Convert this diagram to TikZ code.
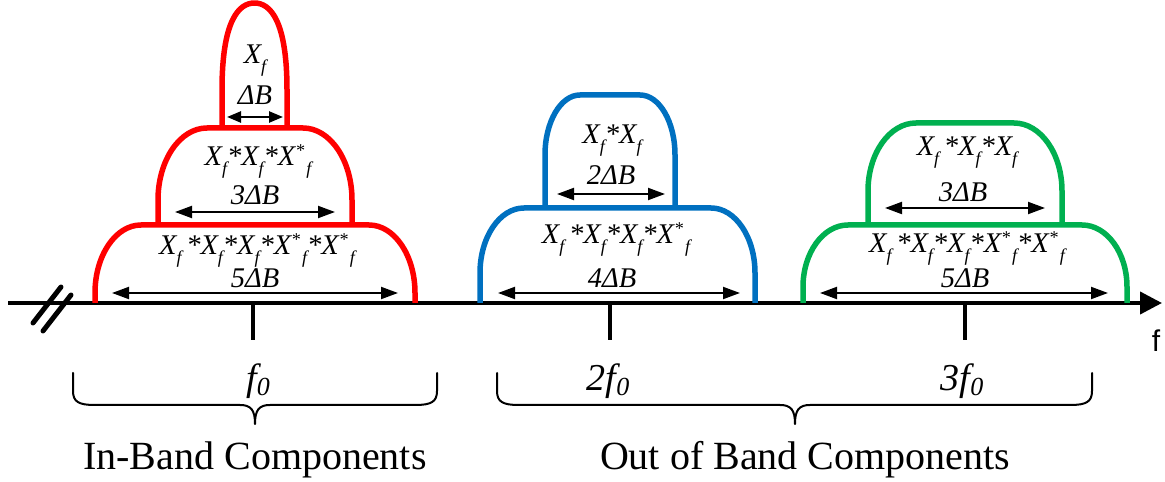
\documentclass[tikz,border=0pt]{standalone}
\usepackage{fontspec}
\setmainfont{Liberation Serif}
\newfontfamily\axisfont{Liberation Sans}
\usetikzlibrary{arrows.meta}

\definecolor{bandred}{RGB}{255,0,0}
\definecolor{bandblue}{RGB}{0,112,192}
\definecolor{bandgreen}{RGB}{0,176,80}

% sub- and superscripts set by hand in the text font
\newcommand\dn[1]{\raisebox{-0.3em}{\fontsize{18}{18}\selectfont #1}}
\newcommand\upstar{\raisebox{0.33em}{\fontsize{18}{18}\selectfont *}}
\newcommand\Xf{X\dn{f}}
\newcommand\Xc{X\upstar\kern2pt\dn{f}}
\newcommand\fz{f\raisebox{-0.12em}{\fontsize{26}{26}\selectfont 0}}
\newcommand\labfont{\fontsize{28.5}{31}\selectfont\itshape}
\newcommand\freqfont{\fontsize{38}{40}\selectfont\itshape}
\newcommand\capfont{\fontsize{40}{44}\selectfont}

% spectral lobe: style, left x, right x, base y, top y, corner x radius, corner y radius
\newcommand\drawlobe[7]{%
  \draw[#1] (#2,#4) -- (#2,{#5-#7})
    arc[start angle=180,end angle=90,x radius=#6,y radius=#7]
    -- ({#3-#6},#5)
    arc[start angle=90,end angle=0,x radius=#6,y radius=#7]
    -- (#3,#4);}

% horizontal brace: left x, right x, tip x
\newcommand\drawbrace[3]{%
  \draw[brace] (#1,109) -- (#1,91) .. controls (#1,80) and ({#1+6},77) .. ({#1+22},77)
    -- ({#3-15},77) .. controls ({#3-4},77) and (#3,72) .. (#3,58)
    .. controls (#3,72) and ({#3+4},77) .. ({#3+15},77)
    -- ({#2-22},77) .. controls ({#2-6},77) and (#2,80) .. (#2,91) -- (#2,109);}

\tikzset{
  lobe/.style={line width=5.5pt, line join=round},
  redlobe/.style={lobe, draw=bandred},
  bluelobe/.style={lobe, draw=bandblue},
  greenlobe/.style={lobe, draw=bandgreen},
  bw/.style={line width=2pt, {Triangle[length=17pt,width=12pt]}-{Triangle[length=17pt,width=12pt]}},
  bwsmall/.style={line width=2.5pt, {Triangle[length=14pt,width=11pt]}-{Triangle[length=14pt,width=11pt]}},
  lab/.style={anchor=base, inner sep=0pt, font=\labfont},
  freq/.style={anchor=base, inner sep=0pt, font=\freqfont},
  grouptext/.style={anchor=base, inner sep=0pt, font=\capfont},
  axisline/.style={line width=4pt},
  brace/.style={line width=2pt, line cap=round, line join=round},
}

\begin{document}
\begin{tikzpicture}[x=1pt,y=1pt]
\useasboundingbox (0,0) rectangle (1165,482);

% frequency axis with break mark
\coordinate (ax0) at (8,179);
\coordinate (ax1) at (1162,179);
\draw[axisline, -{Triangle[length=22pt,width=22pt]}] (ax0) -- (ax1);
\draw[line width=5pt, line cap=round] (33,159) -- (61,195);
\draw[line width=5pt, line cap=round] (43,151) -- (71,187);
\node[anchor=base, inner sep=0pt, font=\axisfont\fontsize{30}{32}\selectfont] (flab) at (1156,130) {f};

% ticks
\foreach \n/\x in {t1/253, t2/610, t3/965}{
  \coordinate (\n a) at (\x,179);
  \coordinate (\n b) at (\x,142);
  \draw[axisline] (\n a) -- (\n b);
}

% in-band lobes (red)
\drawlobe{redlobe}{95}{415}{179}{257}{46}{68}
\drawlobe{redlobe}{158}{352}{257}{354}{49}{72}
\draw[redlobe] (222,354) -- (222,392)
  .. controls (222,462) and (239,479) .. (254.5,479)
  .. controls (270,479) and (287,462) .. (287,392) -- (287,354);

% second harmonic lobes (blue)
\drawlobe{bluelobe}{480}{755}{179}{274}{44}{65}
\drawlobe{bluelobe}{545}{675}{274}{387}{35}{60}

% third harmonic lobes (green)
\drawlobe{greenlobe}{803}{1127}{179}{257}{45}{62}
\drawlobe{greenlobe}{868}{1062}{257}{359}{48}{68}

% bandwidth arrows
\coordinate (r1l) at (227,365); \coordinate (r1r) at (283,365);
\coordinate (r2l) at (175,270); \coordinate (r2r) at (335,270);
\coordinate (r3l) at (112,189); \coordinate (r3r) at (398,189);
\coordinate (b1l) at (557,288); \coordinate (b1r) at (665,288);
\coordinate (b2l) at (498,189); \coordinate (b2r) at (740,189);
\coordinate (g1l) at (885,274); \coordinate (g1r) at (1045,274);
\coordinate (g2l) at (820,189); \coordinate (g2r) at (1108,189);
\draw[bwsmall] (r1l) -- (r1r);
\draw[bw] (r2l) -- (r2r);
\draw[bw] (r3l) -- (r3r);
\draw[bw] (b1l) -- (b1r);
\draw[bw] (b2l) -- (b2r);
\draw[bw] (g1l) -- (g1r);
\draw[bw] (g2l) -- (g2r);

% lobe labels
\node[lab] (rx1) at (255,418) {\Xf};
\node[lab] (rd1) at (255,377) {ΔB};
\node[lab] (rx2) at (258,316) {\Xf*\Xf*\Xc};
\node[lab] (rd2) at (255,277) {3ΔB};
\node[lab] (rx3) at (257,227) {\Xf\,*\Xf*\Xf*\Xc*\Xc};
\node[lab] (rd3) at (255,194) {5ΔB};

\node[lab] (bx1) at (612,338) {\Xf*\Xf};
\node[lab] (bd1) at (611,297) {2ΔB};
\node[lab] (bx2) at (616,238) {\Xf\,*\Xf*\Xf*\Xc};
\node[lab] (bd2) at (612,194) {4ΔB};

\node[lab] (gx1) at (967,326) {\Xf\,*\Xf*\Xf};
\node[lab] (gd1) at (963,280) {3ΔB};
\node[lab] (gx2) at (967,229) {\Xf\,*\Xf*\Xf*\Xc*\Xc};
\node[lab] (gd2) at (965,194) {5ΔB};

% harmonic frequencies
\node[freq] (f1) at (258,91) {\fz};
\node[freq] (f2) at (608,91) {2\fz};
\node[freq] (f3) at (962,91) {3\fz};

% groupings
\drawbrace{73}{437}{255}
\drawbrace{497}{1092}{795}
\node[grouptext] (inb) at (255,12) {In-Band Components};
\node[grouptext] (outb) at (805,12) {Out of Band Components};
\end{tikzpicture}
\end{document}
